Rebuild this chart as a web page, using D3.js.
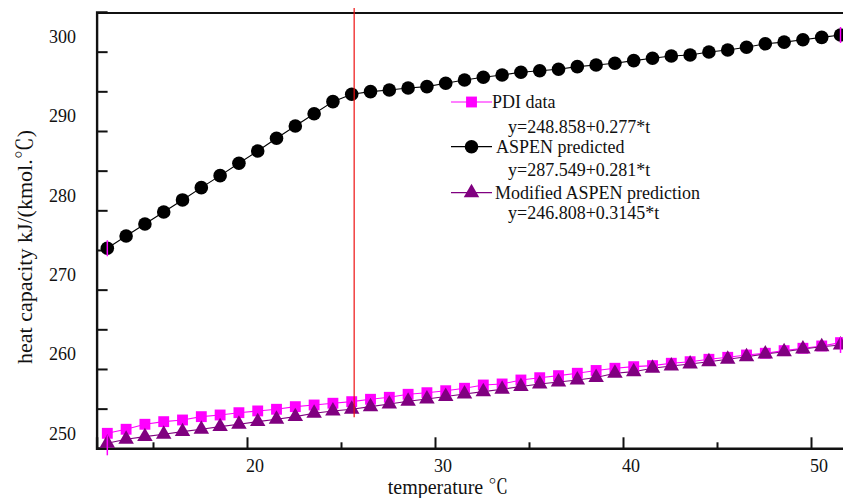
<!DOCTYPE html>
<html><head><meta charset="utf-8">
<script src="https://cdn.jsdelivr.net/npm/d3@7"></script>
<style>
html,body{margin:0;padding:0;background:#fff;}
svg{display:block;}
text{font-family:"Liberation Serif","Times New Roman","Noto Serif CJK SC","Noto Sans CJK SC",serif;fill:#111;}
</style></head>
<body>
<svg id="chart" width="843" height="498"></svg>
<script>
// temperature (°C) of each computed point
const temperature = [12.57,13.57,14.57,15.57,16.57,17.57,18.57,19.57,20.57,21.57,
  22.57,23.57,24.57,25.57,26.57,27.57,28.57,29.57,30.57,31.57,
  32.57,33.57,34.57,35.57,36.57,37.57,38.57,39.57,40.57,41.57,
  42.57,43.57,44.57,45.57,46.57,47.57,48.57,49.57,50.57,51.57];
// PDI data
const pdiData = [251.89,252.40,253.03,253.36,253.57,253.99,254.20,254.49,254.71,254.92,
  255.25,255.46,255.68,255.88,256.18,256.43,256.81,257.01,257.26,257.57,
  257.98,258.11,258.61,258.90,259.16,259.46,259.81,260.09,260.29,260.42,
  260.72,260.92,261.22,261.47,261.76,261.98,262.31,262.61,262.90,263.32];
// ASPEN predicted
const aspenPredicted = [275.22,276.77,278.28,279.79,281.31,282.86,284.37,285.93,287.48,289.08,
  290.63,292.18,293.70,294.63,294.96,295.17,295.42,295.59,296.02,296.43,
  296.77,297.06,297.40,297.60,297.78,298.11,298.32,298.54,298.87,299.17,
  299.46,299.58,299.96,300.21,300.55,301.00,301.20,301.50,301.80,302.10];
// Modified ASPEN prediction
const modifiedAspen = [250.63,251.14,251.47,251.77,252.10,252.40,252.73,253.03,253.36,253.66,
  253.99,254.42,254.71,254.92,255.25,255.59,255.93,256.22,256.53,256.85,
  257.14,257.44,257.79,258.11,258.36,258.61,258.93,259.46,259.66,260.09,
  260.38,260.63,260.92,261.22,261.55,261.89,262.18,262.52,262.81,263.03];

const xMajorTicks = [20, 30, 40, 50];
const xMinorTicks = [15, 25, 35, 45];
const yMajorTicks = [250, 260, 270, 280, 290, 300];
const yMinorTicks = [255, 265, 275, 285, 295];
const xDomain = [12, 52];
const yDomain = [250, 305];
const markerLineT = 25.7;            // red vertical marker
const markerLineRange = [253.9, 305.5];

const legendNames = ["PDI data", "ASPEN predicted", "Modified ASPEN prediction"];
const legendEquations = ["y=248.858+0.277*t", "y=287.549+0.281*t", "y=246.808+0.3145*t"];

const xTitle = "temperature \u2103";
const yTitle = "heat capacity kJ/(kmol.\u2103)";

const svg = d3.select("#chart");
const x = d3.scaleLinear().domain(xDomain).range([96.6, 848.6]);
const y = d3.scaleLinear().domain(yDomain).range([448.3, 12.0]);

const series = [
  {name: legendNames[0], values: pdiData, color: "#ff00ff", line: "#ff00ff", shape: d3.symbolSquare, size: 118},
  {name: legendNames[1], values: aspenPredicted, color: "#000000", line: "#000000", shape: d3.symbolCircle, size: 145},
  {name: legendNames[2], values: modifiedAspen, color: "#800080", line: "#800080", shape: d3.symbolTriangle, size: 104}
];

// frame
svg.append("line").attr("x1", x(xDomain[0])).attr("x2", 860).attr("y1", 13).attr("y2", 13)
  .attr("stroke", "#111").attr("stroke-width", 2);

// axes with inward ticks
const yAxis = d3.axisLeft(y).tickValues(yMajorTicks).tickSize(-11).tickFormat("");
const yAxisMinor = d3.axisLeft(y).tickValues(yMinorTicks).tickSize(-11).tickFormat("");
const xAxis = d3.axisBottom(x).tickValues(xMajorTicks).tickSize(-11).tickFormat("");
const xAxisMinor = d3.axisBottom(x).tickValues(xMinorTicks).tickSize(-6).tickFormat("");

function styleAxis(g){
  g.selectAll("path").attr("stroke", "#111").attr("stroke-width", 2.4);
  g.selectAll("line").attr("stroke", "#111").attr("stroke-width", 2);
}
svg.append("g").attr("transform", `translate(${x(xDomain[0])},0)`).call(yAxis).call(styleAxis);
svg.append("g").attr("transform", `translate(${x(xDomain[0])},0)`).call(yAxisMinor).call(styleAxis).select("path").remove();
svg.append("g").attr("transform", `translate(0,${y(yDomain[0])})`).call(xAxis).call(styleAxis);
svg.append("g").attr("transform", `translate(0,${y(yDomain[0])})`).call(xAxisMinor).call(styleAxis).select("path").remove();

// tick labels (offset as in the reference)
svg.append("g").selectAll("text").data(yMajorTicks).join("text")
  .attr("x", 76).attr("y", d => y(d) - 15).attr("dy", "0.35em")
  .attr("text-anchor", "end").attr("font-size", 18).text(d => d);
svg.append("g").selectAll("text").data(xMajorTicks).join("text")
  .attr("x", d => x(d) + 8).attr("y", 466).attr("dy", "0.35em")
  .attr("text-anchor", "middle").attr("font-size", 18).text(d => d);

// axis titles
svg.append("text").attr("x", 448).attr("y", 494).attr("text-anchor", "middle")
  .attr("font-size", 20).text(xTitle);
svg.append("text").attr("transform", "translate(32,247) rotate(-90)").attr("text-anchor", "middle")
  .attr("font-size", 22).text(yTitle);

// series lines
const lineGen = d3.line().x((d, i) => x(temperature[i])).y(d => y(d));
series.forEach(s => {
  svg.append("path").datum(s.values).attr("d", lineGen)
    .attr("fill", "none").attr("stroke", s.line).attr("stroke-width", 1.1);
});
// markers
series.forEach(s => {
  svg.append("g").selectAll("path").data(s.values).join("path")
    .attr("transform", (d, i) => `translate(${x(temperature[i])},${y(d)})`)
    .attr("d", d3.symbol().type(s.shape).size(s.size))
    .attr("fill", s.color);
});
// magenta end ticks at first/last points
const last = temperature.length - 1;
[[0, aspenPredicted], [last, aspenPredicted], [0, modifiedAspen], [last, modifiedAspen]].forEach(([i, arr]) => {
  svg.append("line").attr("x1", x(temperature[i])).attr("x2", x(temperature[i]))
    .attr("y1", y(arr[i]) - 8).attr("y2", y(arr[i]) + (arr === modifiedAspen && i === 0 ? 12 : 8))
    .attr("stroke", "#ff00ff").attr("stroke-width", 1.5);
});

// red vertical line
svg.append("line").attr("x1", x(markerLineT)).attr("x2", x(markerLineT))
  .attr("y1", y(markerLineRange[0])).attr("y2", y(markerLineRange[1]))
  .attr("stroke", "#ee1111").attr("stroke-width", 1.2);

// legend
const legY = [102, 146.7, 192.7];
const legTextX = [492, 496, 495];
const eqY = [126.7, 170, 213.3];
series.forEach((s, k) => {
  const g = svg.append("g");
  g.append("line").attr("x1", 451).attr("x2", 492).attr("y1", legY[k]).attr("y2", legY[k])
    .attr("stroke", s.line).attr("stroke-width", 1.2);
  g.append("path").attr("transform", `translate(471.5,${legY[k]})`)
    .attr("d", d3.symbol().type(s.shape).size(s.size)).attr("fill", s.color);
  g.append("text").attr("x", legTextX[k]).attr("y", legY[k]).attr("dy", "0.33em")
    .attr("font-size", 18).text(s.name);
  g.append("text").attr("x", 508).attr("y", eqY[k]).attr("dy", "0.33em")
    .attr("font-size", 18).text(legendEquations[k]);
});
</script>
</body></html>
